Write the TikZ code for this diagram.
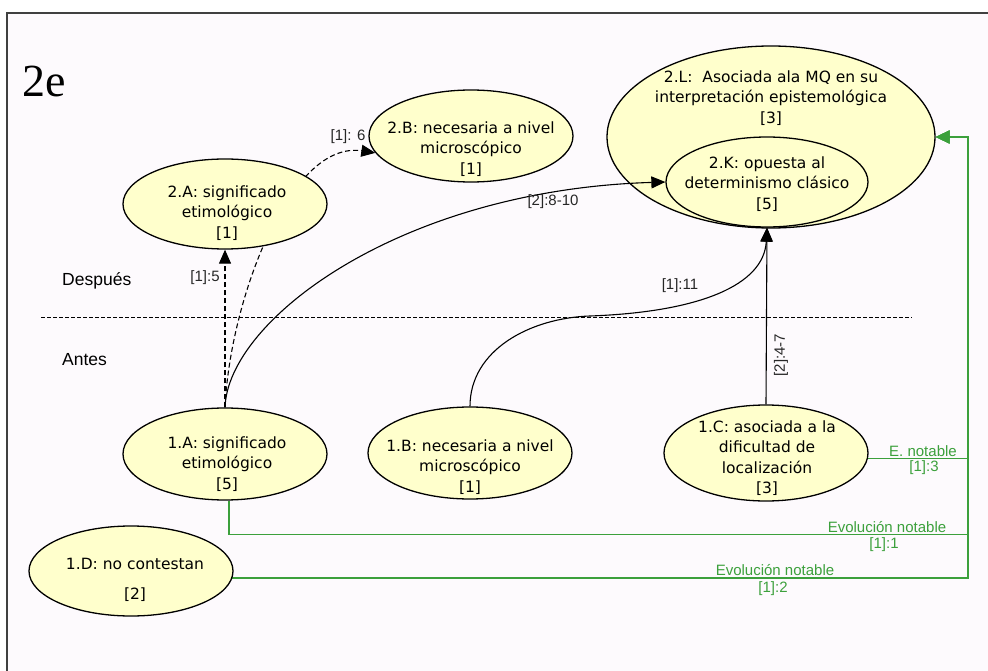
\documentclass[tikz,border=0pt]{standalone}
\usepackage{fontspec}
\setmainfont{Liberation Sans}
\newfontfamily\nodefont{DejaVu Sans}
\newfontfamily\titlefont{Liberation Serif}
\usetikzlibrary{shapes.geometric,arrows.meta,calc}
\definecolor{bgpink}{RGB}{253,250,253}
\definecolor{ellfill}{RGB}{255,255,204}
\definecolor{evgreen}{RGB}{60,160,60}
\definecolor{framegray}{RGB}{64,64,64}
\pgfdeclarelayer{bg}\pgfdeclarelayer{back}\pgfdeclarelayer{mid}
\pgfsetlayers{bg,back,mid,main}
\begin{document}
\begin{tikzpicture}[x=1pt,y=-1pt,
  ell/.style={ellipse,draw=black,fill=ellfill,line width=1.3pt,inner sep=0pt},
  ntext/.style={align=center,font=\nodefont\fontsize{15.5}{20.5}\selectfont,inner sep=0pt},
  lab/.style={font=\fontsize{15}{16}\selectfont,text=black!85,inner sep=0pt},
  glab/.style={font=\fontsize{15}{16}\selectfont,text=evgreen,inner sep=0pt},
  side/.style={font=\fontsize{17.5}{20}\selectfont,anchor=west,inner sep=0pt},
  conn/.style={line width=1.1pt,-{Triangle[length=14pt,width=12pt]}},
  dconn/.style={conn,dash pattern=on 5pt off 3pt},
  gconn/.style={draw=evgreen,line width=1.6pt,-{Triangle[length=14pt,width=13pt]}},
  gline/.style={draw=evgreen,line width=1.6pt},
]
\useasboundingbox (0,0) rectangle (988,671);
\begin{pgfonlayer}{bg}
  \fill[white] (0,0) rectangle (988,671);
  \fill[bgpink] (7,13) rectangle (988,671);
  \draw[framegray,line width=1.6pt] (7,671) -- (7,13) -- (988,13);
\end{pgfonlayer}

% title and side labels
\node[font=\titlefont\fontsize{46}{50}\selectfont,anchor=base west,inner sep=0pt] (title) at (22,97) {2e};
\node[side] (despues) at (62,281) {Después};
\node[side] (antes) at (62,360) {Antes};
\coordinate (sepL) at (41,317);
\coordinate (sepR) at (912,317);
\draw[line width=0.9pt,dash pattern=on 4pt off 2pt] (sepL) -- (sepR);

% big ellipse 2.L on back layer
\begin{pgfonlayer}{back}
  \node[ell,minimum width=328pt,minimum height=182pt] (l2) at (771,137) {};
\end{pgfonlayer}
\node[ntext] (l2t) at (771,98) {2.L:\ \ Asociada ala MQ en su\\interpretación epistemológica\\{}[3]};

% other ellipses
\node[ell,minimum width=202pt,minimum height=90pt] (k2) at (767,182) {};
\node[ntext] (k2t) at (767,184) {2.K: opuesta al\\determinismo clásico\\{}[5]};
\node[ell,minimum width=204pt,minimum height=90pt] (a2) at (225,204) {};
\node[ntext] (a2t) at (227,213) {2.A: significado\\etimológico\\{}[1]};
\node[ell,minimum width=204pt,minimum height=92pt] (b2) at (471,136) {};
\node[ntext] (b2t) at (471,149) {2.B: necesaria a nivel\\microscópico\\{}[1]};
\node[ell,minimum width=204pt,minimum height=92pt] (a1) at (225,454) {};
\node[ntext] (a1t) at (227,464) {1.A: significado\\etimológico\\{}[5]};
\node[ell,minimum width=204pt,minimum height=92pt] (b1) at (470,453) {};
\node[ntext] (b1t) at (470,467) {1.B: necesaria a nivel\\microscópico\\{}[1]};
\node[ell,minimum width=204pt,minimum height=96pt] (c1) at (766,453) {};
\node[ntext] (c1t) at (767,458) {1.C: asociada a la\\dificultad de\\localización\\{}[3]};
\node[ell,minimum width=204pt,minimum height=90pt] (d1) at (131,571) {};
\node[ntext] (d1t) at (135,580) {1.D: no contestan\\[9pt]{}[2]};

% connectors
\coordinate (rail) at (968,0);
\coordinate (bm) at (590,316);
\begin{pgfonlayer}{mid}
  \draw[dconn] (a1.north) -- (a2.south);
  \draw[dconn] (a1.north) .. controls (230,300) and (290,140) .. (b2.190);
  \draw[conn] (a1.north) .. controls (228,320) and (400,190) .. (k2.west);
  \draw[line width=1.1pt] (b1.north) .. controls (470,350) and (530,318) .. (bm);
  \draw[conn] (bm) .. controls (700,312) and (764,285) .. (k2.south);
  \draw[conn] (c1.north) -- (k2.south);
  % green evolution lines
  \draw[gconn] (c1.-3) -- (c1.-3 -| rail) |- (l2.east);
  \draw[gline] ([xshift=4pt]a1.south) -- ++(0,34) coordinate (ga) -- (ga -| rail);
  \draw[gconn] (ga -| rail) |- (l2.east);
  \draw[gconn] (d1.-4) -- (d1.-4 -| rail) |- (l2.east);
\end{pgfonlayer}

% connector labels
\node[lab] (l15) at (205,278) {[1]:5};
\node[lab] (l16) at (348,137) {[1]: 6};
\node[lab] (l810) at (553,202) {[2]:8-10};
\node[lab] (l111) at (680,286) {[1]:11};
\node[lab,rotate=90] (l247) at (781,355) {[2]:4-7};
\node[glab] (g3a) at (923,451) {E. notable};
\node[glab] (g3b) at (924,468) {[1]:3};
\node[glab] (g1a) at (887,527) {Evolución notable};
\node[glab] (g1b) at (884,545) {[1]:1};
\node[glab] (g2a) at (775,570) {Evolución notable};
\node[glab] (g2b) at (773,589) {[1]:2};
\end{tikzpicture}
\end{document}
